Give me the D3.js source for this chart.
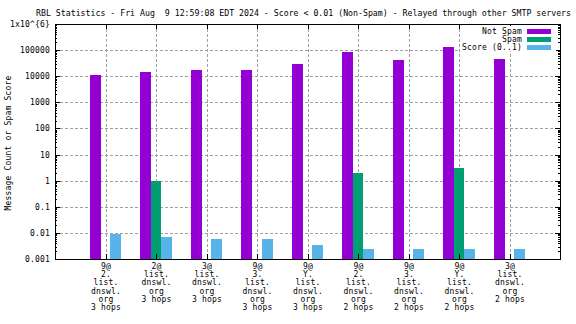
<!DOCTYPE html>
<html><head><meta charset="utf-8">
<script src="https://cdn.jsdelivr.net/npm/d3@7"></script>
<style>
html,body{margin:0;padding:0;background:#fff;}
svg text{font-family:"DejaVu Sans Mono",monospace;font-size:8px;letter-spacing:0.18px;fill:#000;white-space:pre;}
</style></head><body>
<svg id="c" width="576" height="324"></svg>
<script>
const title = "RBL Statistics - Fri Aug  9 12:59:08 EDT 2024 - Score < 0.01 (Non-Spam) - Relayed through other SMTP servers";
const categories = [
  "9@|2.|list.|dnswl.|org|3 hops",
  "2@|list.|dnswl.|org|3 hops",
  "3@|list.|dnswl.|org|3 hops",
  "9@|3.|list.|dnswl.|org|3 hops",
  "9@|Y.|list.|dnswl.|org|3 hops",
  "9@|2.|list.|dnswl.|org|2 hops",
  "9@|3.|list.|dnswl.|org|2 hops",
  "9@|Y.|list.|dnswl.|org|2 hops",
  "3@|list.|dnswl.|org|2 hops"
];
const seriesNames = ["Not Spam", "Spam", "Score (0..1)"];
const notSpam = [11100, 14500, 17300, 17300, 29400, 84700, 41900, 132000, 45700];
const spam    = [0, 1, 0, 0, 0, 2, 0, 3, 0];
const score   = [0.0094, 0.0070, 0.0058, 0.0058, 0.0034, 0.0024, 0.0024, 0.0024, 0.0024];
const yTickValues = [0.001, 0.01, 0.1, 1, 10, 100, 1000, 10000, 100000, 1000000];
const yTickLabels = ["0.001", "0.01", "0.1", "1", "10", "100", "1000", "10000", "100000", "1x10^{6}"];
const colors = ["#9400d3", "#009e73", "#56b4e9"];
const yLabel = "Message Count or Spam Score";

const svg = d3.select("#c");
const L = 55, R = 560, T = 24, B = 259;
const x = d3.scaleLinear().domain([-1, 9]).range([L, R]);
const y = d3.scaleLog().domain([0.001, 1000000]).range([B, T]);

// grid
const g = svg.append("g").attr("shape-rendering", "crispEdges");
g.selectAll(".hg").data(yTickValues.slice(1, -1)).enter().append("line")
  .attr("x1", L).attr("x2", R).attr("y1", d => Math.round(y(d)) + 0.5).attr("y2", d => Math.round(y(d)) + 0.5)
  .attr("stroke", "#a0a0a0").attr("stroke-dasharray", "3,2");
g.selectAll(".vg").data(d3.range(categories.length)).enter().append("line")
  .attr("y1", T).attr("y2", B).attr("x1", d => Math.round(x(d)) + 0.5).attr("x2", d => Math.round(x(d)) + 0.5)
  .attr("stroke", "#a0a0a0").attr("stroke-dasharray", "3,2");

// bars
const series = [notSpam, spam, score];
const bw = 0.215;
const offs = [-0.205, 0, 0.2];
series.forEach((vals, k) => {
  svg.append("g").attr("shape-rendering", "crispEdges").selectAll("rect")
    .data(vals.map((v, i) => ({v, i})).filter(d => d.v > 0)).enter().append("rect")
    .attr("x", d => x(d.i + offs[k] - bw / 2))
    .attr("width", d => x(bw) - x(0))
    .attr("y", d => y(d.v))
    .attr("height", d => B - y(d.v))
    .attr("fill", colors[k]);
});

// axes ticks (gnuplot style, inside)
const ax = svg.append("g").attr("shape-rendering", "crispEdges").attr("stroke", "#000");
const minors = [];
for (let e = -3; e < 6; e++) for (let m = 2; m <= 9; m++) minors.push(m * Math.pow(10, e));
yTickValues.forEach(v => {
  const yy = Math.round(y(v)) + 0.5;
  ax.append("line").attr("x1", L).attr("x2", L + 5).attr("y1", yy).attr("y2", yy);
  ax.append("line").attr("x1", R - 5).attr("x2", R).attr("y1", yy).attr("y2", yy);
});
minors.forEach(v => {
  const yy = Math.round(y(v)) + 0.5;
  ax.append("line").attr("x1", L).attr("x2", L + 2).attr("y1", yy).attr("y2", yy);
  ax.append("line").attr("x1", R - 2).attr("x2", R).attr("y1", yy).attr("y2", yy);
});
d3.range(categories.length).forEach(i => {
  const xx = Math.round(x(i)) + 0.5;
  ax.append("line").attr("x1", xx).attr("x2", xx).attr("y1", B).attr("y2", B - 5);
  ax.append("line").attr("x1", xx).attr("x2", xx).attr("y1", T).attr("y2", T + 5);
});
ax.append("rect").attr("x", L + 0.5).attr("y", T + 0.5).attr("width", R - L).attr("height", B - T)
  .attr("fill", "none");

// y tick labels
svg.append("g").selectAll("text").data(yTickValues).enter().append("text")
  .attr("x", 50).attr("y", d => y(d) + 3).attr("text-anchor", "end")
  .text((d, i) => yTickLabels[i]);

// x tick labels
categories.forEach((c, i) => {
  const t = svg.append("text").attr("text-anchor", "middle");
  c.split("|").forEach((line, j) => {
    t.append("tspan").attr("x", x(i) + 0.5).attr("y", 268.5 + j * 8.35).text(line);
  });
});

// y label
svg.append("text").attr("transform", "translate(10.5,143) rotate(-90)").attr("text-anchor", "middle").text(yLabel);

// title
svg.append("text").attr("x", 36).attr("y", 15.5).attr("textLength", 535).attr("lengthAdjust", "spacingAndGlyphs")
  .style("letter-spacing", "0px").text(title);

// legend
const lg = svg.append("g");
lg.append("rect").attr("x", 460).attr("y", 26).attr("width", 96).attr("height", 25).attr("fill", "#fff");
seriesNames.forEach((n, k) => {
  const yy = 31 + k * 8;
  lg.append("text").attr("x", 522).attr("y", yy + 3).attr("text-anchor", "end").text(n);
  lg.append("rect").attr("x", 527).attr("y", yy - 2).attr("width", 24).attr("height", 5)
    .attr("fill", colors[k]).attr("shape-rendering", "crispEdges");
});
</script>
</body></html>
